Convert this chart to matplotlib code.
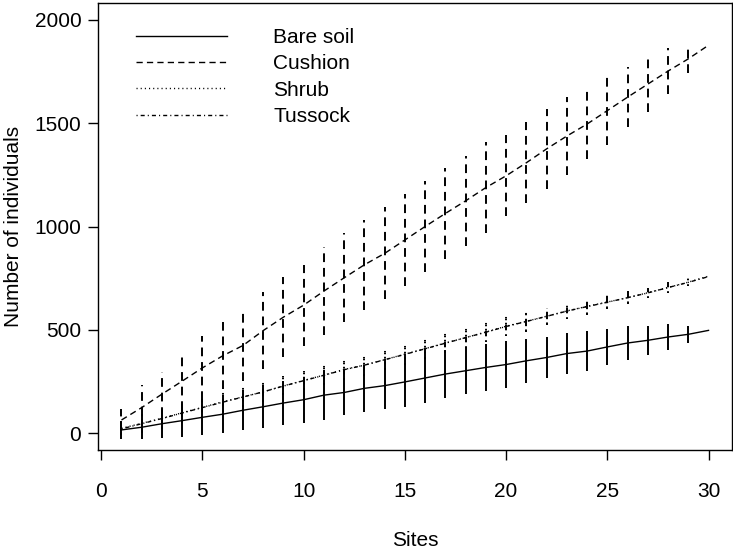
import numpy as np
import matplotlib
matplotlib.use("Agg")
import matplotlib.pyplot as plt

plt.rcParams['font.family'] = ['Liberation Sans', 'DejaVu Sans']

sites = list(range(1, 31))

bare_mean = [17, 30, 47, 62, 78, 93, 112, 129, 147, 163, 185, 198, 218, 231, 249,
             268, 287, 303, 319, 333, 351, 367, 386, 398, 418, 437, 450, 466, 479, 498]
bare_sd = [45, 58, 70, 80, 85, 92, 96, 104, 106, 111, 120, 109, 113, 114, 120,
           120, 118, 113, 113, 112, 106, 101, 99, 95, 88, 83, 69, 61, 42, 0]

cushion_mean = [65, 125, 190, 253, 317, 375, 425, 497, 562, 620, 688, 752, 815, 870, 935,
                1000, 1063, 1124, 1188, 1245, 1308, 1375, 1437, 1495, 1560, 1625, 1688, 1751, 1810, 1876]
cushion_sd = [51, 108, 105, 138, 153, 162, 170, 186, 192, 196, 212, 215, 218, 222, 222,
              222, 222, 218, 218, 195, 195, 195, 187, 169, 168, 145, 134, 112, 67, 0]

shrub_mean = [25, 49, 73, 100, 126, 153, 177, 201, 230, 256, 282, 309, 330, 357, 383,
              410, 437, 463, 490, 518, 542, 566, 592, 614, 635, 656, 680, 705, 731, 760]
shrub_sd = [30, 45, 50, 50, 50, 50, 50, 48, 46, 45, 48, 50, 52, 52, 51,
            51, 50, 50, 48, 48, 50, 40, 38, 40, 32, 30, 26, 27, 20, 0]

tussock_mean = [22, 47, 72, 99, 125, 151, 176, 201, 229, 255, 281, 308, 330, 356, 382,
                409, 436, 463, 489, 517, 541, 566, 591, 613, 634, 656, 679, 705, 730, 758]
tussock_sd = [28, 42, 48, 48, 49, 49, 48, 47, 45, 44, 46, 48, 50, 50, 49,
              49, 48, 48, 46, 46, 47, 38, 36, 38, 30, 28, 25, 25, 18, 0]

labels = ['Bare soil', 'Cushion', 'Shrub', 'Tussock']
styles = ['-', (0, (4.5, 3.0)), (0, (0.8, 2.2)), (0, (0.8, 2.2, 2.9, 2.2))]

fig = plt.figure(figsize=(7.33, 5.5), dpi=100)
ax = fig.add_axes([98 / 733, 100 / 550, 634 / 733, 447 / 550])

series = [(bare_mean, bare_sd), (cushion_mean, cushion_sd),
          (shrub_mean, shrub_sd), (tussock_mean, tussock_sd)]
for (m, s), lab, ls in zip(series, labels, styles):
    m = np.array(m)
    s = np.array(s)
    ax.plot(sites, m, color='black', lw=1.0, linestyle=ls, label=lab)
    ax.vlines(sites, m - s, m + s, colors='black', linestyles=[ls], lw=1.4)

ax.set_xlim(-0.16, 31.16)
ax.set_ylim(-80, 2080)
ax.set_xticks([0, 5, 10, 15, 20, 25, 30])
ax.set_yticks([0, 500, 1000, 1500, 2000])
ax.tick_params(direction='out', length=7, width=1, labelsize=15, pad=5)
ax.tick_params(axis='x', pad=16)
for sp in ax.spines.values():
    sp.set_linewidth(1)
ax.set_xlabel('Sites', fontsize=15, labelpad=22)
ax.set_ylabel('Number of individuals', fontsize=15, labelpad=8)

ax.legend(loc='upper left', bbox_to_anchor=(0.03, 0.986), frameon=False, fontsize=15,
          handlelength=4.4, handletextpad=2.2, labelspacing=0.35)

fig.savefig('out.png', dpi=100)
